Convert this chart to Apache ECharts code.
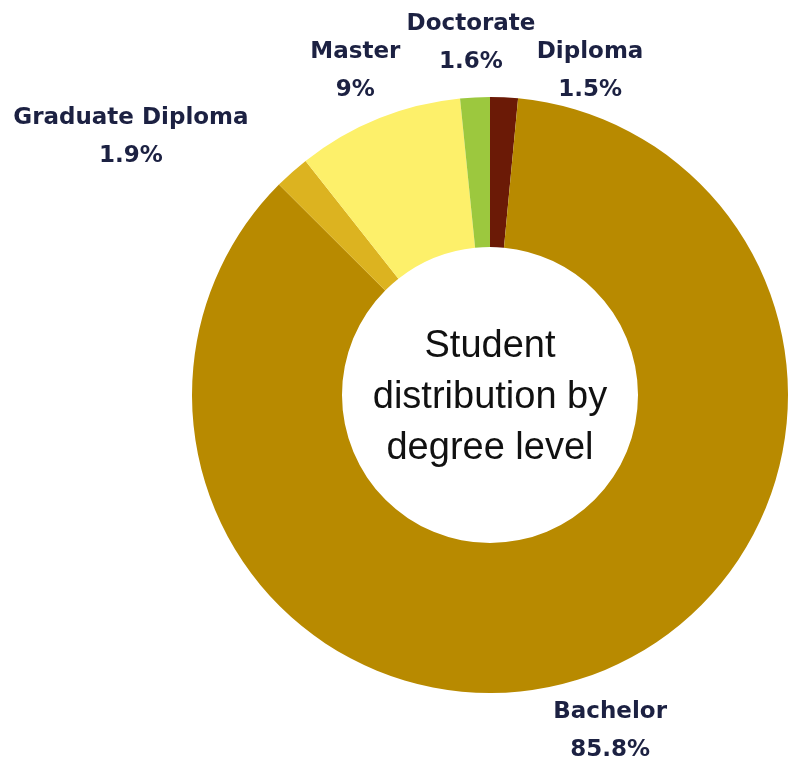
<!DOCTYPE html>
<html>
<head>
<meta charset="utf-8">
<script src="https://cdn.jsdelivr.net/npm/echarts@6/dist/echarts.min.js"></script>
<style>
  html, body { margin: 0; padding: 0; background: #ffffff; }
  #chart { width: 797px; height: 758px; }
</style>
</head>
<body>
<div id="chart"></div>
<script>
// Degree levels, clockwise from 12 o'clock
const degreeLevels = ['Diploma', 'Bachelor', 'Graduate Diploma', 'Master', 'Doctorate'];
const sharePercent = [1.5, 85.8, 1.9, 9, 1.6];
const sliceColors = ['#6b1a06', '#b88a00', '#dcb320', '#fdf06a', '#9cc83e'];

// Label nudges from the default outside anchor (styling only)
const labelNudge = {
  'Diploma': [81, -26],
  'Bachelor': [14, 56],
  'Graduate Diploma': [-156, -35],
  'Master': [-18, -48],
  'Doctorate': [1, -54]
};

const chart = echarts.init(document.getElementById('chart'), null, { renderer: 'canvas' });

const pieData = degreeLevels.map((name, i) => ({
  name: name,
  value: sharePercent[i],
  itemStyle: { color: sliceColors[i] }
}));

const labelFont = {
  fontFamily: 'DejaVu Sans',
  fontWeight: 'bold',
  fontSize: 23,
  color: '#1c2142',
  lineHeight: 38,
  align: 'center'
};

chart.setOption({
  animation: false,
  backgroundColor: '#ffffff',
  title: {
    text: 'Student\ndistribution by\ndegree level',
    left: 485,
    top: 393,
    textAlign: 'center',
    textVerticalAlign: 'middle',
    textStyle: {
      fontFamily: 'Liberation Sans',
      fontWeight: 'normal',
      fontSize: 38,
      lineHeight: 51,
      color: '#111111'
    }
  },
  series: [{
    type: 'pie',
    center: [490, 395],
    radius: [148, 298],
    startAngle: 90,
    clockwise: true,
    avoidLabelOverlap: false,
    data: pieData,
    label: {
      show: true,
      position: 'outside',
      formatter: p => '{n|' + p.name + '}\n{v|' + p.value + '%}',
      rich: { n: labelFont, v: labelFont },
      distanceToLabelLine: 5
    },
    labelLine: { show: false, length: 0, length2: 0 },
    labelLayout: function (params) {
      const d = labelNudge[degreeLevels[params.dataIndex]];
      return { align: 'center', verticalAlign: 'middle', dx: d[0], dy: d[1] };
    },
    emphasis: { disabled: true }
  }]
});
</script>
</body>
</html>
